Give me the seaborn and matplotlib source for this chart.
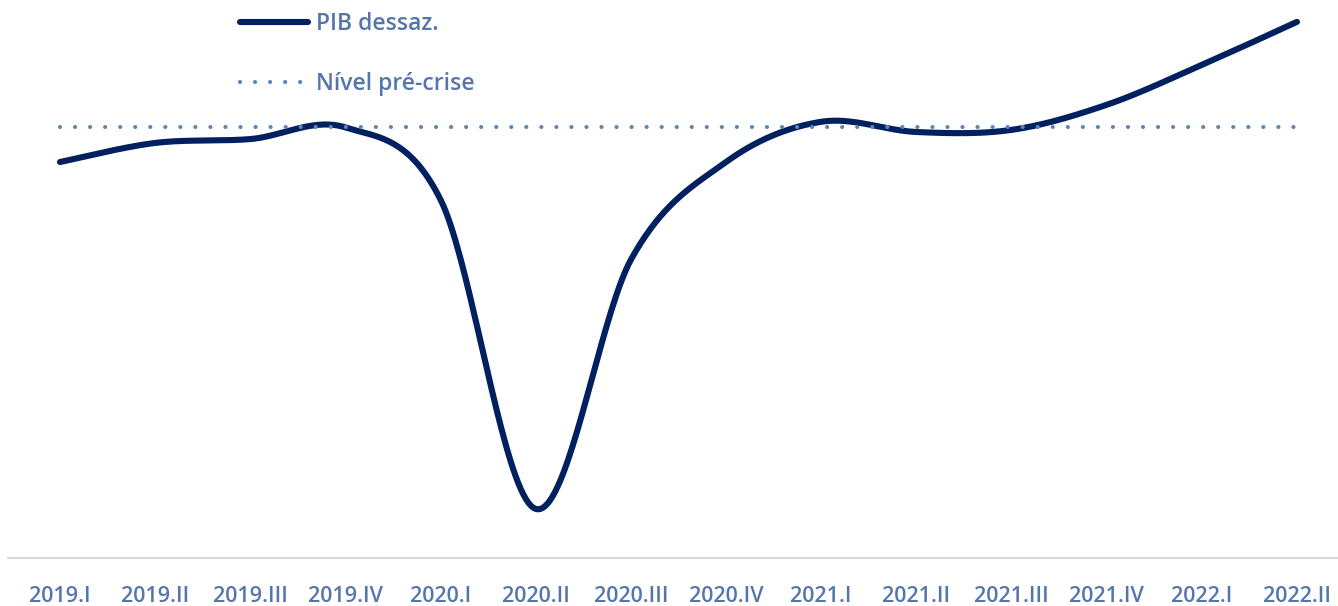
import numpy as np
import seaborn as sns
import matplotlib.pyplot as plt
from matplotlib.lines import Line2D

# ============================ DATA ====================================

quarters = ['2019.I', '2019.II', '2019.III', '2019.IV',
            '2020.I', '2020.II', '2020.III', '2020.IV',
            '2021.I', '2021.II', '2021.III', '2021.IV',
            '2022.I', '2022.II']

# Seasonally adjusted GDP index (2019.IV = 100)
pib_dessaz = [99.02, 99.56, 99.67, 100.0,
              97.95, 89.19, 96.25, 99.02,
              100.16, 99.87, 99.93, 100.64,
              101.77, 102.99]

# Pre-crisis level (2019.IV), one value per quarter
nivel_pre_crise = [100.0] * len(quarters)

# ========================= FUNCTIONS ==================================


def smooth_curve(y, n=40):
    """Excel-like smoothed line: cubic Bezier segments through each point."""
    x = np.arange(len(y), dtype=float)
    y = np.asarray(y, dtype=float)
    pts = np.column_stack([x, y])
    ext = np.vstack([pts[0], pts, pts[-1]])
    t = np.linspace(0, 1, n)[:, None]
    out = []
    for i in range(len(pts) - 1):
        p0, p3 = ext[i + 1], ext[i + 2]
        c1 = p0 + (ext[i + 2] - ext[i]) / 6
        c2 = p3 - (ext[i + 3] - ext[i + 1]) / 6
        seg = ((1 - t) ** 3) * p0 + 3 * ((1 - t) ** 2) * t * c1 \
            + 3 * (1 - t) * t ** 2 * c2 + t ** 3 * p3
        out.append(seg if i == 0 else seg[1:])
    out = np.vstack(out)
    return out[:, 0], out[:, 1]


# ============================ PLOT ====================================

sns.set_theme(style='white')
plt.rcParams['font.family'] = ['Open Sans', 'DejaVu Sans']

line_color = '#002060'
dot_color = '#5b87b8'
text_color = '#5576ad'
dot_style = (0, (0.01, 3.6))

fig = plt.figure(figsize=(13.38, 6.06), dpi=100)
ax = fig.add_axes([8 / 1338, 1 - 558 / 606, 1 - 8 / 1338, 558 / 606])

xs, ys = smooth_curve(pib_dessaz)
sns.lineplot(x=xs, y=ys, ax=ax, color=line_color, linewidth=4.4,
             solid_capstyle='round', sort=False)

sns.lineplot(x=np.arange(len(quarters)), y=nivel_pre_crise, ax=ax,
             color=dot_color, linewidth=3.0, dash_capstyle='round',
             linestyle=dot_style)

# axes limits (px based on reference layout)
step = 95.15
ax.set_xlim(-(60 - 8) / step, (1338 - 60) / step)
ax.set_ylim(87.8, 103.61)

ax.set_xticks(range(len(quarters)))
ax.set_xticklabels(quarters, color=text_color, fontsize=15.5,
                   fontweight='semibold')
ax.tick_params(axis='x', length=0, pad=20)
ax.set_yticks([])
ax.set_xlabel('')
ax.set_ylabel('')

for side in ['top', 'right', 'left']:
    ax.spines[side].set_visible(False)
ax.spines['bottom'].set_color('#d9d9d9')
ax.spines['bottom'].set_linewidth(1.5)

handles = [
    Line2D([], [], color=line_color, linewidth=4.4, solid_capstyle='round'),
    Line2D([], [], color=dot_color, linewidth=3.0, dash_capstyle='round',
           linestyle=dot_style),
]
leg = ax.legend(handles, ['PIB dessaz.', 'Nível pré-crise'],
                loc='upper left', bbox_to_anchor=(211 / 1330, 1.015),
                frameon=False, fontsize=16.5, handlelength=3.0,
                handletextpad=0.35, labelspacing=1.55)
for txt in leg.get_texts():
    txt.set_color(text_color)
    txt.set_fontweight('semibold')

fig.savefig('out.png', dpi=100)
